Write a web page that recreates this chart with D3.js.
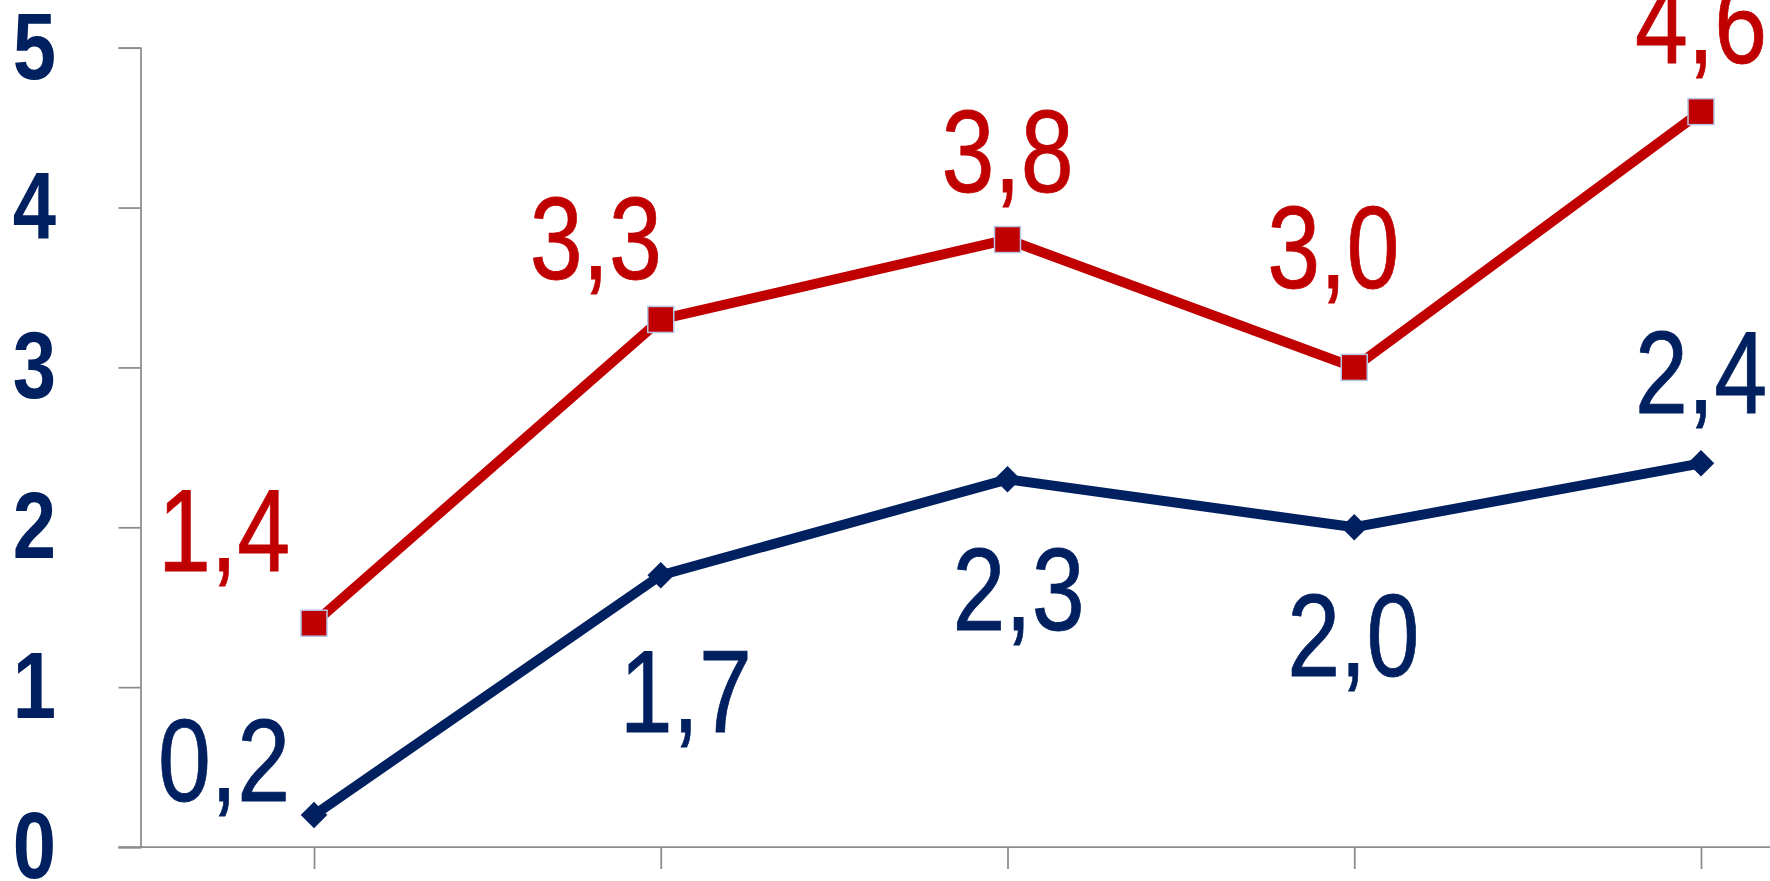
<!DOCTYPE html>
<html lang="en">
<head>
    <meta charset="UTF-8">
    <title>Line chart</title>
    <script src="https://d3js.org/d3.v7.min.js"></script>
    <style>
        html, body { margin: 0; padding: 0; background: #ffffff; }
        svg { display: block; }
        .num { font-family: "Liberation Sans", Arial, sans-serif; }
    </style>
</head>
<body>
    <svg id="chart" width="1770" height="881"></svg>

    <script>
        // categories have no visible labels in the picture
        const categories = ["p1", "p2", "p3", "p4", "p5"];
        const redValues = [1.4, 3.3, 3.8, 3.0, 4.6];
        const blueValues = [0.2, 1.7, 2.3, 2.0, 2.4];
        const yTicks = [0, 1, 2, 3, 4, 5];

        // label nudges relative to each point (dx, dy to baseline)
        const redLabelNudge = [[-90, -52], [-65, -40], [0, -48], [-21, -79], [0, -49]];
        const blueLabelNudge = [[-90, -14], [25, 157], [11, 151], [-1, 149], [0, -50]];

        const RED = "#c00000";
        const NAVY = "#002060";
        const AXIS = "#8c8c8c";
        const NARROW = 0.82; // Liberation Sans squeezed to a narrow face

        const svg = d3.select("#chart");

        const x = d3.scalePoint()
            .domain(categories)
            .range([314, 1701]);

        const y = d3.scaleLinear()
            .domain([0, 5])
            .range([847, 47.7]);

        const step = x.step();
        const comma = d3.formatLocale({ decimal: ",", thousands: ".", grouping: [3], currency: ["", ""] }).format(".1f");

        // y axis
        const axisX = 140.5;
        const yAxis = svg.append("g")
            .attr("transform", `translate(${axisX},0)`)
            .call(d3.axisLeft(y).tickValues(yTicks).tickSize(22).tickFormat(d3.format("d")));
        yAxis.select(".domain").attr("stroke", AXIS).attr("stroke-width", 1.75);
        yAxis.selectAll(".tick line").attr("stroke", AXIS).attr("stroke-width", 1.75);
        yAxis.selectAll(".tick text")
            .attr("class", "num")
            .attr("x", 0)
            .attr("transform", `translate(${56 - axisX},0) scale(${NARROW},1)`)
            .attr("text-anchor", "end")
            .attr("fill", NAVY)
            .attr("font-size", 95)
            .attr("font-weight", "bold")
            .attr("dy", "0.32em");

        // x axis, band edges run past the right side of the picture
        const xAxis = svg.append("g")
            .attr("transform", `translate(0,${y(0)})`)
            .call(d3.axisBottom(x).tickSize(22).tickSizeOuter(0).tickFormat(""));
        xAxis.select(".domain")
            .attr("d", `M${axisX - 22},0H${x(categories[categories.length - 1]) + step}`)
            .attr("stroke", AXIS).attr("stroke-width", 1.75);
        xAxis.selectAll(".tick line").attr("stroke", AXIS).attr("stroke-width", 1.75);

        const line = d3.line()
            .x((d, i) => x(categories[i]))
            .y(d => y(d));

        // series lines
        svg.append("path")
            .datum(blueValues)
            .attr("d", line)
            .attr("fill", "none")
            .attr("stroke", NAVY)
            .attr("stroke-width", 10);

        svg.append("path")
            .datum(redValues)
            .attr("d", line)
            .attr("fill", "none")
            .attr("stroke", RED)
            .attr("stroke-width", 10);

        // markers
        const diamond = d3.symbol().type(d3.symbolDiamond2).size(30 * 30 / 2);
        svg.selectAll(".blue-mark")
            .data(blueValues)
            .enter()
            .append("path")
            .attr("class", "blue-mark")
            .attr("d", diamond)
            .attr("transform", (d, i) => `translate(${x(categories[i])},${y(d)})`)
            .attr("fill", NAVY);

        const sq = 26;
        svg.selectAll(".red-mark")
            .data(redValues)
            .enter()
            .append("rect")
            .attr("class", "red-mark")
            .attr("x", (d, i) => x(categories[i]) - sq / 2)
            .attr("y", d => y(d) - sq / 2)
            .attr("width", sq)
            .attr("height", sq)
            .attr("fill", RED)
            .attr("stroke", "#b4c7e7")
            .attr("stroke-width", 1.5);

        // data labels
        const addLabels = (values, nudge, color, cls) => {
            svg.selectAll("." + cls)
                .data(values)
                .enter()
                .append("text")
                .attr("class", cls + " num")
                .attr("transform", (d, i) =>
                    `translate(${x(categories[i]) + nudge[i][0]},${y(d) + nudge[i][1]}) scale(${NARROW},1)`)
                .attr("text-anchor", "middle")
                .attr("font-size", 116)
                .attr("fill", color)
                .attr("stroke", color)
                .attr("stroke-width", 0.8)
                .text(d => comma(d));
        };
        addLabels(redValues, redLabelNudge, RED, "red-label");
        addLabels(blueValues, blueLabelNudge, NAVY, "blue-label");
    </script>
</body>
</html>
